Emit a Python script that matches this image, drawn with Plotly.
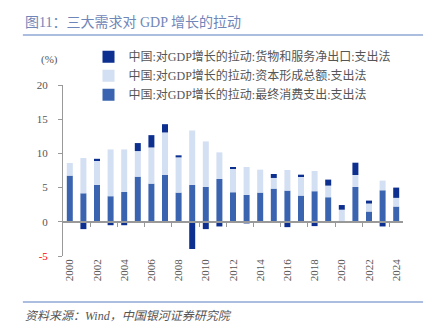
import plotly.graph_objects as go

years = list(range(2000, 2025))
# Contributions to GDP growth (percentage points), expenditure approach
consumption = [6.75, 4.17, 5.39, 3.74, 4.37, 6.60, 5.58, 6.84, 4.27, 5.39, 5.10, 6.26, 4.32,
               3.93, 4.27, 4.85, 4.56, 3.83, 4.47, 3.59, 0.05, 5.10, 1.50, 4.61, 2.23]
capital = [1.85, 5.15, 3.64, 6.84, 6.21, 3.74, 5.29, 6.22, 5.15, 7.96, 6.65, 3.89, 3.45,
           4.08, 3.35, 1.56, 3.01, 2.77, 2.96, 1.70, 1.72, 1.74, 1.17, 1.41, 1.27]
net_exports = [0.0, -1.07, 0.18, -0.50, -0.50, 1.17, 1.80, 1.21, 0.30, -3.98, -1.07, -0.68, 0.14,
               -0.24, 0.0, 0.58, -0.78, 0.29, -0.63, 0.88, 0.68, 1.80, 0.43, -0.68, 1.50]

names = ["中国:对GDP增长的拉动:最终消费支出:支出法",
         "中国:对GDP增长的拉动:资本形成总额:支出法",
         "中国:对GDP增长的拉动:货物和服务净出口:支出法"]
colors = ["#3a64b0", "#d3dff2", "#0d2f8f"]
y_ticks = [-5, 0, 5, 10, 15, 20]

serif = "Liberation Serif, Noto Sans CJK SC, serif"
gray = "#555555"

fig = go.Figure()
for i, (vals, name, col) in enumerate(zip([consumption, capital, net_exports], names, colors)):
    fig.add_trace(go.Bar(
        x=years, y=vals, name=name, width=0.44,
        marker=dict(color=col, line=dict(width=0)),
        legendrank=3 - i,
    ))

fig.update_layout(
    width=426, height=328,
    margin=dict(l=63, r=23, t=85, b=72),
    barmode="relative",
    plot_bgcolor="white", paper_bgcolor="white",
    font=dict(family=serif, size=11, color=gray),
    showlegend=True,
    legend=dict(x=0.075, xanchor="left", y=1.25, yanchor="top",
                orientation="v", traceorder="normal",
                bgcolor="rgba(0,0,0,0)", font=dict(size=12, color=gray),
                tracegroupgap=0, itemwidth=30),
    xaxis=dict(
        range=[1999.5, 2024.5], tickmode="array",
        tickvals=years[::2], ticktext=[str(y) for y in years[::2]],
        tickangle=-90, ticks="", showline=False, showgrid=False, zeroline=False,
        tickfont=dict(size=11, color=gray),
    ),
    xaxis2=dict(
        overlaying="x", anchor="free", position=0.2, matches="x",
        range=[1999.5, 2024.5], showticklabels=False,
        tickmode="array", tickvals=[y + 0.5 for y in years[1:-1:2]],
        ticks="outside", ticklen=4, tickcolor="#999999",
        showline=True, linecolor="#999999", linewidth=1.5, showgrid=False, zeroline=False,
    ),
    yaxis=dict(
        range=[-5, 20], tickmode="array", tickvals=y_ticks,
        ticktext=['<span style="color:#ff0000">-5</span>'] + [str(v) for v in y_ticks[1:]],
        ticks="outside", ticklen=4, tickcolor="#999999",
        showline=True, linecolor="#999999", linewidth=1,
        showgrid=False, zeroline=False, ticklabelstandoff=8,
        tickfont=dict(size=11, color=gray),
    ),
)

# keep the overlay axis drawn by attaching an invisible trace to it
fig.add_trace(go.Scatter(x=[1999.5, 2024.5], y=[0, 0], xaxis="x2", mode="lines",
                         line=dict(width=0), hoverinfo="skip", showlegend=False))

fig.add_annotation(text="(%)", xref="paper", yref="paper", x=-0.04, y=1.152,
                   xanchor="center", yanchor="middle", showarrow=False,
                   font=dict(size=11, color=gray, family=serif))

# title, rules and source line
fig.add_annotation(text="图11：三大需求对 GDP 增长的拉动", xref="paper", yref="paper",
                   x=-0.118, xanchor="left", y=1.363, yanchor="middle", showarrow=False,
                   font=dict(size=14, color="#6f86b8", family=serif))
fig.add_shape(type="line", xref="paper", yref="paper", x0=-0.118, x1=1.059,
              y0=1.292, y1=1.292, line=dict(color="#8fa8d6", width=1.5))
fig.add_shape(type="line", xref="paper", yref="paper", x0=-0.118, x1=1.059,
              y0=-0.269, y1=-0.269, line=dict(color="#8fa8d6", width=1.5))
fig.add_annotation(text="<i>资料来源：Wind，中国银河证券研究院</i>", xref="paper", yref="paper",
                   x=-0.118, xanchor="left", y=-0.351, yanchor="middle", showarrow=False,
                   font=dict(size=12, color="#555555", family=serif))

fig.write_html("out.html")
